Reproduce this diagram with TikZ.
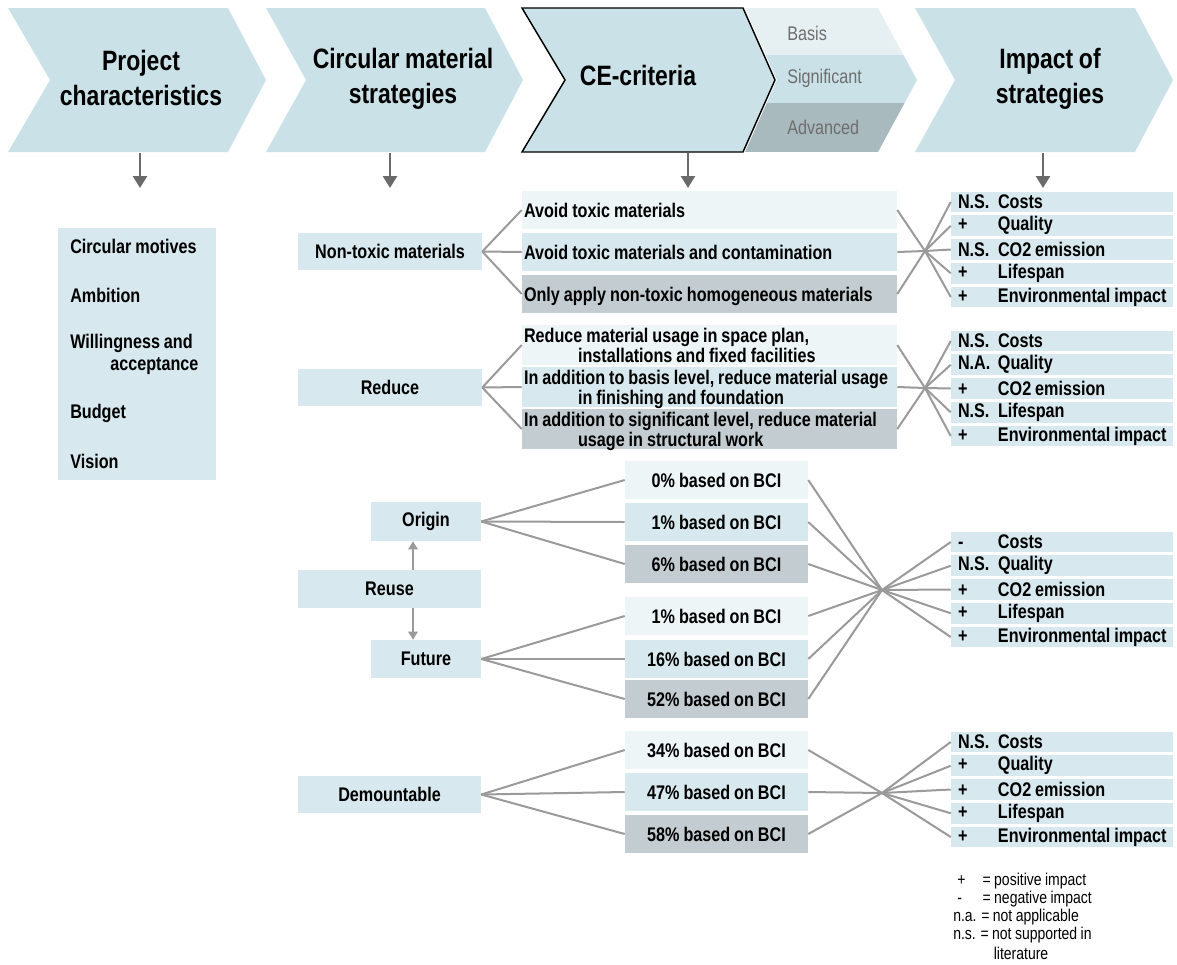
\documentclass[tikz,border=0pt]{standalone}
\usepackage{fontspec}
\setmainfont{Liberation Sans}[FakeStretch=0.82,WordSpace=0.88]
\usetikzlibrary{arrows.meta,calc}
\definecolor{chevc}{HTML}{C9E1E7}
\definecolor{boxc}{HTML}{D7E9EE}
\definecolor{lightc}{HTML}{EDF5F7}
\definecolor{grayc}{HTML}{C3CDD1}
\definecolor{bandA}{HTML}{E6F0F3}
\definecolor{bandB}{HTML}{C9E1E7}
\definecolor{bandC}{HTML}{A9BABF}
\definecolor{linec}{HTML}{9A9A9A}
\definecolor{arrc}{HTML}{6A6A6A}
\definecolor{bandtxt}{HTML}{6E6E6E}
\newcommand\hdrfont{\fontsize{21}{26}\selectfont\bfseries}
\newcommand\bodyfont{\fontsize{14.8}{14.3}\selectfont\bfseries}
\newcommand\bx[7]{\node[bx,#2,minimum width={(#5-#3)*0.75pt},minimum height={(#6-#4)*0.75pt}] (#1) at ({(#3+#5)/2},{(#4+#6)/2}) {#7};}
\newcommand\cetext[1]{\makebox[278.25pt][l]{\raisebox{-2.4pt}[\height][\depth]{\begin{tabular}{@{}l@{}}#1\end{tabular}}}}
\newcommand\impgroup[7]{%
  \foreach \p/\l [count=\i] in {#3/Costs,#4/Quality,#5/CO2 emission,#6/Lifespan,#7/Environmental impact}{%
    \node[irow] (#1r\i) at (1062,{#2+(\i-1)*23.75}) {\makebox[156pt][l]{\makebox[30pt][l]{\p}\l}};
  }}
\begin{document}
\begin{tikzpicture}[x=0.75pt,y=-0.75pt,
  hdr/.style={font=\hdrfont, align=center},
  bx/.style={inner sep=0pt, font=\bodyfont, align=center},
  cel/.style={inner xsep=1.5pt},
  irow/.style={fill=boxc, font=\bodyfont, minimum height=15.5pt, minimum width=166.5pt, inner xsep=5.25pt, inner ysep=0pt},
  conn/.style={draw=linec, line width=1.5pt},
  darr/.style={draw=arrc, line width=1.9pt, -{Triangle[width=10.5pt,length=9pt]}},
  larr/.style={draw=linec, line width=1.3pt, -{Triangle[width=7pt,length=6pt]}},
  bandt/.style={font=\fontsize{14.8}{16}\selectfont, text=bandtxt, anchor=west, inner sep=0pt},
  leg/.style={font=\fontsize{12.8}{14}\selectfont, anchor=west, inner sep=0pt}
]
\useasboundingbox (0,0) rectangle (1177,964);
% header chevrons
\fill[chevc] (8,8) -- (228,8) -- (266,80) -- (228,152) -- (8,152) -- (50,80) -- cycle;
\node[hdr] (h1) at (141,78) {Project\\characteristics};
\fill[chevc] (266,8) -- (485,8) -- (523,80) -- (485,152) -- (266,152) -- (306,80) -- cycle;
\node[hdr] (h2) at (403,79) {Circular material\\strategies};
\begin{scope}
\clip (745,8) -- (878,8) -- (917,80) -- (878,152) -- (745,152) -- (777,80) -- cycle;
\fill[bandA] (740,8) rectangle (920,55);
\fill[bandB] (740,55) rectangle (920,103);
\fill[bandC] (740,103) rectangle (920,152);
\end{scope}
\node[bandt] (bb) at (787,33) {Basis};
\node[bandt] (bs) at (787,78) {Significant};
\node[bandt] (ba) at (787,127) {Advanced};
\filldraw[fill=chevc, draw=black, line width=1.1pt] (522,8) -- (743,8) -- (775,80) -- (743,152) -- (522,152) -- (565,80) -- cycle;
\node[hdr] (h3) at (638,75) {CE-criteria};
\fill[chevc] (915,8) -- (1135,8) -- (1173,80) -- (1135,152) -- (915,152) -- (955,80) -- cycle;
\node[hdr] (h4) at (1050,79) {Impact of\\strategies};
% down arrows
\coordinate (a1s) at (140,153); \coordinate (a1e) at (140,188);
\coordinate (a2s) at (390,153); \coordinate (a2e) at (390,188);
\coordinate (a3s) at (688,153); \coordinate (a3e) at (688,188);
\coordinate (a4s) at (1043,153); \coordinate (a4e) at (1043,188);
\draw[darr] (a1s) -- (a1e);
\draw[darr] (a2s) -- (a2e);
\draw[darr] (a3s) -- (a3e);
\draw[darr] (a4s) -- (a4e);
% project characteristics
\bx{pc}{fill=boxc}{58}{228}{216}{480}{}
\node[bx, anchor=west] (pc1) at (70,246) {Circular motives};
\node[bx, anchor=west] (pc2) at (70,295) {Ambition};
\node[bx, anchor=west] (pc3) at (70,343) {Willingness and};
\node[bx, anchor=west] (pc3b) at (110,366) {acceptance};
\node[bx, anchor=west] (pc4) at (70,413) {Budget};
\node[bx, anchor=west] (pc5) at (70,461) {Vision};
% strategies
\bx{nt}{fill=boxc}{298}{233}{482}{270}{Non-toxic materials}
\bx{rd}{fill=boxc}{298}{369}{482}{406}{Reduce}
\bx{or}{fill=boxc}{371}{502}{481}{541}{Origin}
\bx{ru}{fill=boxc}{298}{570}{481}{608}{Reuse}
\bx{fu}{fill=boxc}{371}{640}{481}{678}{Future}
\bx{dm}{fill=boxc}{298}{776}{481}{813}{Demountable}
\draw[larr] (ru.north -| 413,0) -- (or.south -| 413,0);
\draw[larr] (ru.south -| 413,0) -- (fu.north -| 413,0);
% CE criteria boxes
\bx{c1}{fill=lightc,cel}{522}{191}{897}{229}{\cetext{Avoid toxic materials}}
\bx{c2}{fill=boxc,cel}{522}{233}{897}{271}{\cetext{Avoid toxic materials and contamination}}
\bx{c3}{fill=grayc,cel}{522}{275}{897}{313}{\cetext{Only apply non-toxic homogeneous materials}}
\bx{c4}{fill=lightc,cel}{522}{326}{897}{364}{\cetext{Reduce material usage in space plan,\\\hspace*{40.5pt}installations and fixed facilities}}
\bx{c5}{fill=boxc,cel}{522}{368}{897}{406}{\cetext{In addition to basis level, reduce material usage\\\hspace*{40.5pt}in finishing and foundation}}
\bx{c6}{fill=grayc,cel}{522}{410}{897}{448}{\cetext{In addition to significant level, reduce material\\\hspace*{40.5pt}usage in structural work}}
% BCI boxes
\bx{b1}{fill=lightc}{625}{461}{808}{499}{0\% based on BCI}
\bx{b2}{fill=boxc}{625}{503}{808}{541}{1\% based on BCI}
\bx{b3}{fill=grayc}{625}{545}{808}{583}{6\% based on BCI}
\bx{b4}{fill=lightc}{625}{597}{808}{635}{1\% based on BCI}
\bx{b5}{fill=boxc}{625}{640}{808}{678}{16\% based on BCI}
\bx{b6}{fill=grayc}{625}{680}{808}{718}{52\% based on BCI}
\bx{b7}{fill=lightc}{625}{731}{808}{769}{34\% based on BCI}
\bx{b8}{fill=boxc}{625}{773}{808}{811}{47\% based on BCI}
\bx{b9}{fill=grayc}{625}{815}{808}{853}{58\% based on BCI}
% impact groups
\impgroup{ga}{202}{N.S.}{+}{N.S.}{+}{+}
\impgroup{gb}{341}{N.S.}{N.A.}{+}{N.S.}{+}
\impgroup{gc}{542}{-}{N.S.}{+}{+}{+}
\impgroup{gd}{742}{N.S.}{+}{+}{+}{+}
% left fans
\foreach \t in {c1,c2,c3} \draw[conn] (nt.east) -- (\t.west);
\foreach \t in {c4,c5,c6} \draw[conn] (rd.east) -- (\t.west);
\foreach \t in {b1,b2,b3} \draw[conn] (or.east) -- (\t.west);
\foreach \t in {b4,b5,b6} \draw[conn] (fu.east) -- (\t.west);
\foreach \t in {b7,b8,b9} \draw[conn] (dm.east) -- (\t.west);
% right fans
\coordinate (xa) at (925,251);
\coordinate (xb) at (925,388);
\coordinate (xc) at (882,590);
\coordinate (xd) at (882,793);
\foreach \s in {c1,c2,c3} \draw[conn] (\s.east) -- (xa);
\foreach \s in {c4,c5,c6} \draw[conn] (\s.east) -- (xb);
\foreach \s in {b1,b2,b3,b4,b5,b6} \draw[conn] (\s.east) -- (xc);
\foreach \s in {b7,b8,b9} \draw[conn] (\s.east) -- (xd);
\foreach \i in {1,...,5} {
  \draw[conn] (xa) -- (gar\i.west);
  \draw[conn] (xb) -- (gbr\i.west);
  \draw[conn] (xc) -- (gcr\i.west);
  \draw[conn] (xd) -- (gdr\i.west);
}
% legend
\node[leg] (l1) at (957,881) {\makebox[19pt][l]{+}= positive impact};
\node[leg] (l2) at (957,899) {\makebox[19pt][l]{-}= negative impact};
\node[leg] (l3) at (953,917) {n.a. = not applicable};
\node[leg] (l4) at (953,935) {n.s. = not supported in};
\node[leg, anchor=center] (l5) at (1021,953) {literature};
\end{tikzpicture}
\end{document}
